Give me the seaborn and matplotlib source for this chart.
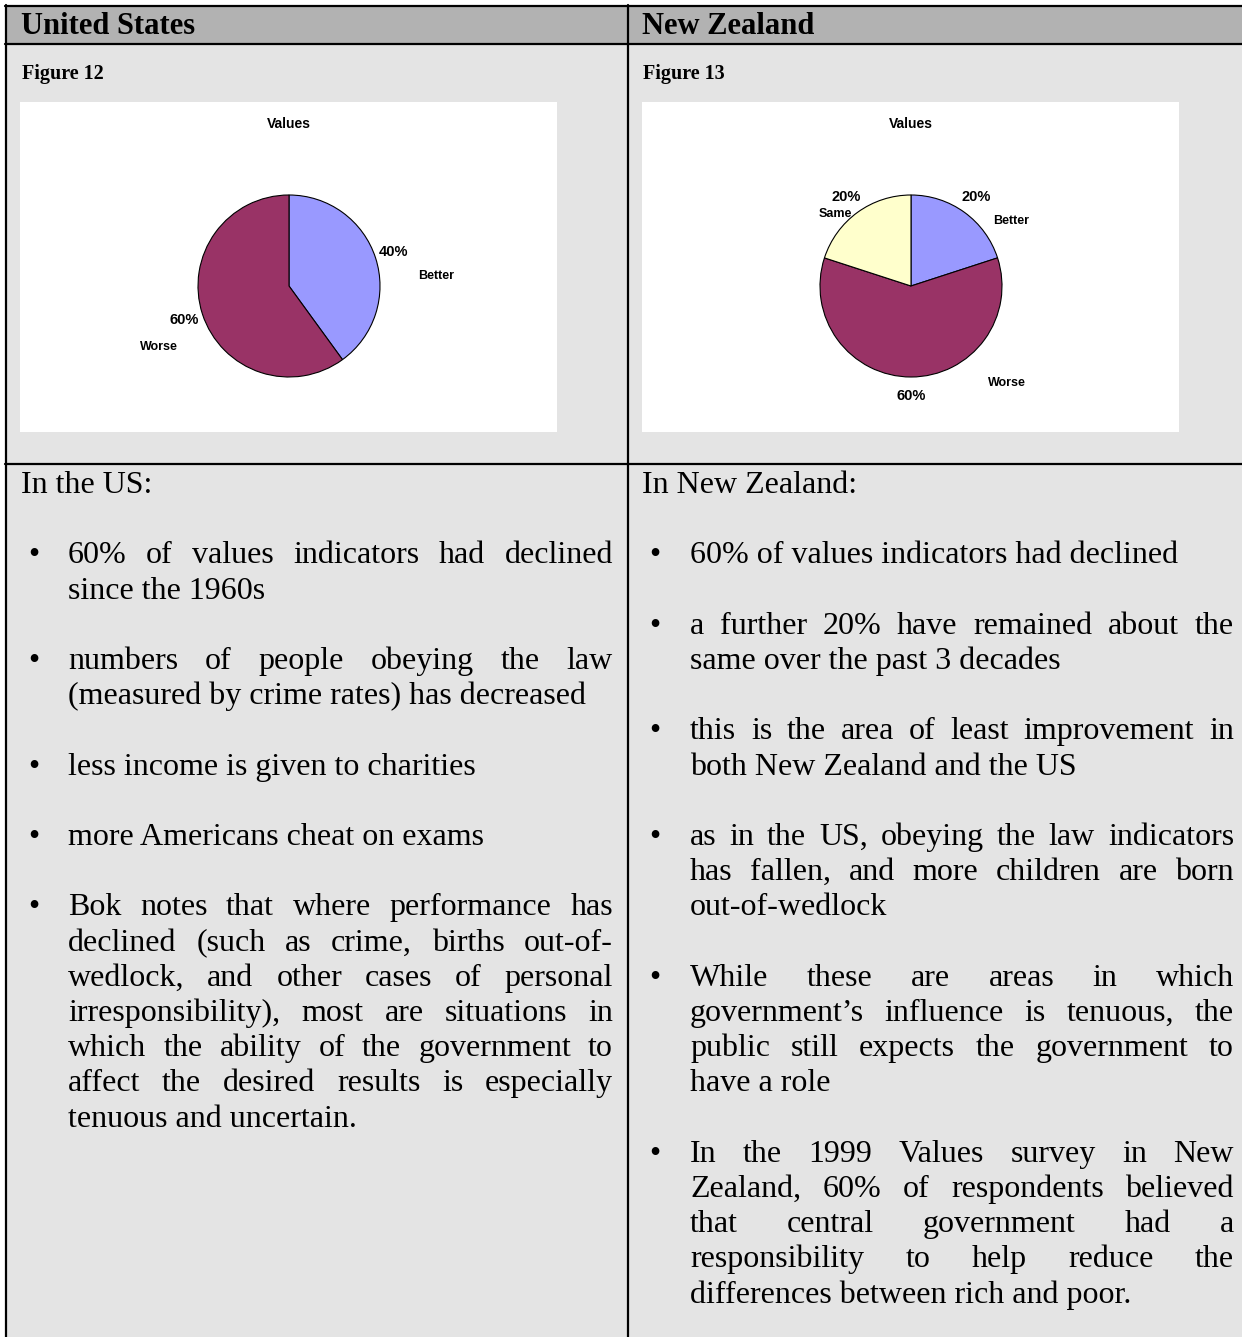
import matplotlib
matplotlib.use("Agg")
import matplotlib.pyplot as plt
from matplotlib.patches import Rectangle
import seaborn as sns

# --- data ---
us_labels = ["Better", "Worse"]
us_values = [40, 60]
nz_labels = ["Better", "Worse", "Same"]
nz_values = [20, 60, 20]
slice_colors = {"Better": "#9999FF", "Worse": "#993366", "Same": "#FFFFCC"}

headers = ["United States", "New Zealand"]
fig_names = ["Figure 12", "Figure 13"]
intros = ["In the US:", "In New Zealand:"]

us_bullets = [
    ["60% of values indicators had declined", "since the 1960s"],
    ["numbers of people obeying the law", "(measured by crime rates) has decreased"],
    ["less income is given to charities"],
    ["more Americans cheat on exams"],
    ["Bok notes that where performance has",
     "declined (such as crime, births out-of-",
     "wedlock, and other cases of personal",
     "irresponsibility), most are situations in",
     "which the ability of the government to",
     "affect the desired results is especially",
     "tenuous and uncertain."],
]
nz_bullets = [
    ["60% of values indicators had declined"],
    ["a further 20% have remained about the", "same over the past 3 decades"],
    ["this is the area of least improvement in", "both New Zealand and the US"],
    ["as in the US, obeying the law indicators",
     "has fallen, and more children are born",
     "out-of-wedlock"],
    ["While these are areas in which",
     "government\u2019s influence is tenuous, the",
     "public still expects the government to",
     "have a role"],
    ["In the 1999 Values survey in New",
     "Zealand, 60% of respondents believed",
     "that central government had a",
     "responsibility to help reduce the",
     "differences between rich and poor."],
]

# --- layout ---
W, H = 1242, 1337
sns.set_style("white")
plt.rcParams["font.family"] = ["Liberation Serif", "DejaVu Serif"]
plt.rcParams["text.color"] = "black"

fig = plt.figure(figsize=(W / 100, H / 100), dpi=100)
page = fig.add_axes([0, 0, 1, 1])
page.set_xlim(0, W)
page.set_ylim(H, 0)
page.axis("off")

# table background and rules
page.add_patch(Rectangle((6, 6), W, 38, fc="#B2B2B2", ec="none"))
page.add_patch(Rectangle((6, 44), W, H, fc="#E4E4E4", ec="none"))
lw = 1.6
page.plot([5, W], [6, 6], color="black", lw=lw)
page.plot([5, W], [43.5, 43.5], color="black", lw=lw)
page.plot([5, W], [464, 464], color="black", lw=lw)
page.plot([6, 6], [5, H], color="black", lw=lw)
page.plot([628, 628], [5, H], color="black", lw=lw)

col_x = [21, 642]
for cx, head, fname in zip(col_x, headers, fig_names):
    page.text(cx, 26, head, fontsize=22, fontweight="bold", va="center")
    page.text(cx + 1, 74, fname, fontsize=14.5, fontweight="bold", va="center")

# --- pies ---
def draw_pie(box_left, labels, values, offsets):
    ax = fig.add_axes([box_left / W, 1 - 432 / H, 537 / W, 330 / H])
    cols = sns.color_palette([slice_colors[l] for l in labels])
    wedges, _, autotexts = ax.pie(
        values, colors=cols, startangle=90, counterclock=False,
        autopct="%1.0f%%", pctdistance=1.21, frame=True,
        wedgeprops=dict(edgecolor="black", linewidth=0.8),
        textprops=dict(family="Liberation Sans", fontweight="bold",
                       fontsize=10.5, color="black"),
    )
    r = 91.0
    ax.set_xlim(-269 / r, 268 / r)
    ax.set_ylim(-146 / r, 184 / r)
    ax.set_aspect("auto")
    ax.set_facecolor("white")
    ax.set_xticks([])
    ax.set_yticks([])
    for at, lab, off in zip(autotexts, labels, offsets):
        ax.annotate(lab, at.get_position(), xytext=off, textcoords="offset pixels",
                    ha="center", va="center", family="Liberation Sans",
                    fontweight="bold", fontsize=9, color="black")
    ax.text(0, 162 / r, "Values", ha="center", va="center",
            family="Liberation Sans", fontweight="bold", fontsize=10, color="black")
    for s in ax.spines.values():
        s.set_visible(False)

draw_pie(20, us_labels, us_values, [(42, -24), (-25, -27)])
draw_pie(642, nz_labels, nz_values, [(35, -24), (96, 13), (-11, -17)])

# --- justified body text ---
renderer = fig.canvas.get_renderer()
FS = 23
base0 = 493
step = 35.2

def put_line(words, x0, x1, y, justify):
    if not justify or len(words) == 1:
        page.text(x0, y, " ".join(words), fontsize=FS, va="baseline")
        return
    ts = [page.text(0, y, w, fontsize=FS, va="baseline") for w in words]
    ws = [t.get_window_extent(renderer).width for t in ts]
    gap = (x1 - x0 - sum(ws)) / (len(words) - 1)
    x = x0
    for t, w in zip(ts, ws):
        t.set_x(x)
        x += w + gap

def draw_column(cx, intro, bullets, x0, x1):
    page.text(cx, base0, intro, fontsize=FS, va="baseline")
    row = 2
    for para in bullets:
        page.text(cx + 7, base0 + row * step, "\u2022", fontsize=FS, va="baseline")
        for i, line in enumerate(para):
            last = i == len(para) - 1
            put_line(line.split(" "), x0, x1, base0 + row * step, not last)
            row += 1
        row += 1

draw_column(21, intros[0], us_bullets, 68, 613)
draw_column(642, intros[1], nz_bullets, 690, 1234)

fig.savefig("out.png", dpi=100)
